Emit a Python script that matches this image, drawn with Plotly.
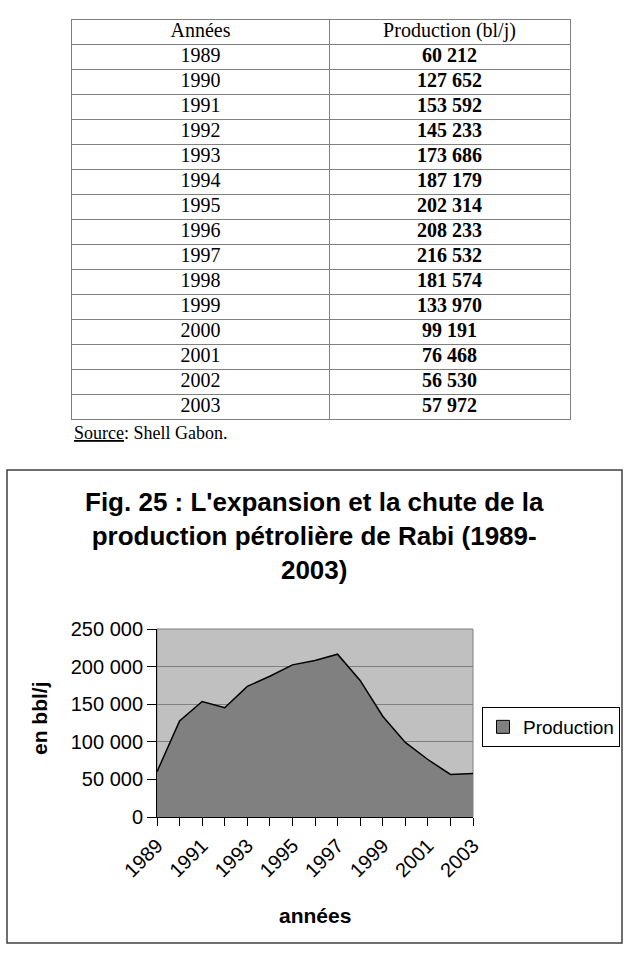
import plotly.graph_objects as go

# ---- data ----
years = [1989, 1990, 1991, 1992, 1993, 1994, 1995, 1996, 1997, 1998, 1999, 2000, 2001, 2002, 2003]
production = [60212, 127652, 153592, 145233, 173686, 187179, 202314, 208233, 216532,
              181574, 133970, 99191, 76468, 56530, 57972]
x_tick_labels = ["1989", "", "1991", "", "1993", "", "1995", "", "1997", "", "1999", "", "2001", "", "2003"]
y_tick_vals = [0, 50000, 100000, 150000, 200000, 250000]
table_header = ["Années", "Production (bl/j)"]
series_name = "Production"

W, H = 627, 959
def px_x(p):
    return p / W
def px_y(p):
    return 1 - p / H

SANS = "Liberation Sans, Arial, sans-serif"
SERIF = "Liberation Serif, Times New Roman, serif"
TABLE_FONT = dict(family=SERIF, size=20, color="black")

fig = go.Figure()

# ---- table (drawn on its own axes: x2 = column, y2 = row) ----
n_rows = len(years) + 1  # header + data rows
split = 257 / 498        # column divider position within the table width
col_centers = [split / 2, (1 + split) / 2]
row_idx = list(range(1, n_rows))

fig.add_trace(go.Scatter(
    x=col_centers, y=[0, 0], text=table_header, mode="text",
    textposition="middle center", textfont=TABLE_FONT,
    xaxis="x2", yaxis="y2", showlegend=False, hoverinfo="skip",
))
fig.add_trace(go.Scatter(
    x=[col_centers[0]] * len(years), y=row_idx, text=[str(y) for y in years], mode="text",
    textposition="middle center", textfont=TABLE_FONT,
    xaxis="x2", yaxis="y2", showlegend=False, hoverinfo="skip",
))
fig.add_trace(go.Scatter(
    x=[col_centers[1]] * len(production), y=row_idx,
    text=["<b>" + f"{v:,}".replace(",", " ") + "</b>" for v in production], mode="text",
    textposition="middle center", textfont=TABLE_FONT,
    xaxis="x2", yaxis="y2", showlegend=False, hoverinfo="skip",
))

# ---- area chart ----
fig.add_trace(go.Scatter(
    x=years, y=production, name=series_name,
    mode="lines", fill="tozeroy", fillcolor="#808080",
    line=dict(color="black", width=1.5),
    showlegend=False, hoverinfo="x+y",
))
# legend swatch (square, as in the original)
fig.add_trace(go.Scatter(
    x=[None], y=[None], name=series_name, mode="markers",
    marker=dict(symbol="square", size=13, color="#808080", line=dict(color="black", width=1)),
    showlegend=True,
))

fig.update_layout(
    width=W, height=H,
    margin=dict(l=0, r=0, t=0, b=0, autoexpand=False),
    paper_bgcolor="white",
    plot_bgcolor="white",
    separators=", ",
    font=dict(family=SANS, color="black"),
    xaxis=dict(
        domain=[px_x(157), px_x(473)],
        range=[years[0], years[-1]],
        tickmode="array", tickvals=years, ticktext=x_tick_labels,
        tickangle=-45, tickfont=dict(size=20, family=SANS, color="black"),
        ticks="outside", ticklen=8, tickcolor="black", tickwidth=1,
        showline=True, linecolor="black", linewidth=1,
        showgrid=False, zeroline=False, automargin=False,
    ),
    yaxis=dict(
        domain=[px_y(817), px_y(629)],
        range=[0, 250000],
        tickmode="array", tickvals=y_tick_vals, tickformat=",d",
        tickfont=dict(size=20, family=SANS, color="black"),
        ticks="outside", ticklen=9, tickcolor="black", tickwidth=1,
        showline=True, linecolor="black", linewidth=1,
        showgrid=True, gridcolor="#808080", gridwidth=1,
        zeroline=False, automargin=False,
    ),
    xaxis2=dict(
        domain=[px_x(72), px_x(570)], anchor="y2",
        range=[0, 1], tickmode="array", tickvals=[split], showticklabels=False,
        ticks="", showgrid=True, gridcolor="#808080", gridwidth=1,
        showline=True, mirror=True, linecolor="#808080", linewidth=1,
        zeroline=False, automargin=False, fixedrange=True,
    ),
    yaxis2=dict(
        domain=[px_y(419), px_y(20)], anchor="x2",
        range=[n_rows - 0.5, -0.5],
        tickmode="array", tickvals=[i + 0.5 for i in range(n_rows - 1)], showticklabels=False,
        ticks="", showgrid=True, gridcolor="#808080", gridwidth=1,
        showline=True, mirror=True, linecolor="#808080", linewidth=1,
        zeroline=False, automargin=False, fixedrange=True,
    ),
    legend=dict(
        x=px_x(482), y=px_y(707), xanchor="left", yanchor="top",
        bordercolor="black", borderwidth=1, bgcolor="white",
        font=dict(size=19, family=SANS, color="black"),
        itemwidth=30,
    ),
    shapes=[
        # silver plot-area background of the chart (below gridlines)
        dict(type="rect", xref="x domain", yref="y domain",
             x0=0, x1=1, y0=0, y1=1, layer="below",
             line=dict(color="#808080", width=1), fillcolor="#C0C0C0"),
        # outer frame of the chart
        dict(type="rect", xref="paper", yref="paper",
             x0=px_x(7), x1=px_x(622), y0=px_y(943), y1=px_y(470),
             line=dict(color="#404040", width=1.5), fillcolor="rgba(0,0,0,0)"),
    ],
    annotations=[
        dict(text="<u>Source</u>: Shell Gabon.", xref="paper", yref="paper",
             x=px_x(72), y=px_y(433), xanchor="left", yanchor="middle",
             showarrow=False, font=dict(family=SERIF, size=18, color="black")),
        dict(text="<b>Fig. 25 : L'expansion et la chute de la<br>production pétrolière de Rabi (1989-<br>2003)</b>",
             xref="paper", yref="paper", x=px_x(314.5), y=px_y(485),
             xanchor="center", yanchor="top", align="center",
             showarrow=False, font=dict(family=SANS, size=26, color="black")),
        dict(text="<b>en bbl/j</b>", xref="paper", yref="paper",
             x=px_x(39), y=px_y(718), xanchor="center", yanchor="middle",
             textangle=-90, showarrow=False,
             font=dict(family=SANS, size=21, color="black")),
        dict(text="<b>années</b>", xref="paper", yref="paper",
             x=px_x(315), y=px_y(915), xanchor="center", yanchor="middle",
             showarrow=False, font=dict(family=SANS, size=21, color="black")),
    ],
)

fig.write_html("out.html")
